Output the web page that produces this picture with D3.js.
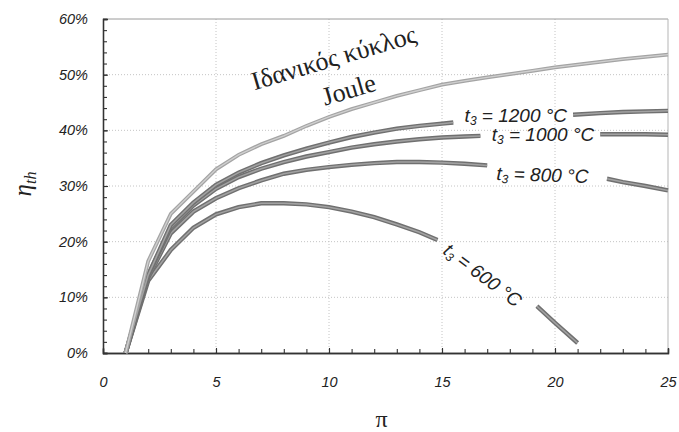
<!DOCTYPE html>
<html>
<head>
<meta charset="utf-8">
<script src="https://cdn.jsdelivr.net/npm/d3@7"></script>
<style>
	body { margin: 0; background: #fff; }
	svg text { fill: #222; }
</style>
</head>
<body>
<div id="chart"></div>
<script>
// thermal efficiency (%) against pressure ratio pi
// null = gap where the curve label sits
var joule = [[1,0],[2,16.5],[3,25],[4,29],[5,33],[6,35.6],[7,37.5],[8,39],[9,40.8],[10,42.4],[11,43.8],[12,45],[13,46.2],[14,47.2],[15,48.2],[16,48.9],[17,49.5],[18,50.1],[19,50.7],[20,51.3],[21,51.8],[22,52.3],[23,52.8],[24,53.2],[25,53.6]];
var t1200 = [[1,0],[2,14],[3,23],[4,27],[5,30.2],[6,32.4],[7,34.1],[8,35.5],[9,36.7],[10,37.8],[11,38.8],[12,39.6],[13,40.3],[14,40.8],[15,41.2],[15.5,41.4],null,[20.8,42.8],[22,43.1],[23,43.3],[24,43.4],[25,43.5]];
var t1000 = [[1,0],[2,14],[3,22.5],[4,26.5],[5,29.5],[6,31.6],[7,33.1],[8,34.3],[9,35.3],[10,36.1],[11,36.9],[12,37.5],[13,38],[14,38.4],[15,38.7],[16,38.9],[16.7,39],null,[22,39.3],[23,39.3],[24,39.3],[25,39.2]];
var t800 = [[1,0],[2,13.5],[3,21.5],[4,25.4],[5,27.8],[6,29.6],[7,31],[8,32.2],[9,32.9],[10,33.4],[11,33.8],[12,34.1],[13,34.3],[14,34.3],[15,34.2],[16,34],[17,33.7],null,[22.3,31.3],[23,30.7],[24,30],[25,29.2]];
var t600 = [[1,0],[2,13],[3,18.5],[4,22.5],[5,24.9],[6,26.2],[7,26.9],[8,26.9],[9,26.7],[10,26.2],[11,25.4],[12,24.4],[13,23.1],[14,21.7],[14.8,20.3],null,[19.2,8.4],[20,5.4],[21,1.8]];

var xTicks = [0,5,10,15,20,25];
var yTicks = [0,10,20,30,40,50,60];

var width = 679, height = 432;
var margin = {top: 19, right: 11, bottom: 79, left: 103};

var svg = d3.select("#chart").append("svg")
	.attr("width", width)
	.attr("height", height);

var x = d3.scaleLinear().domain([0,25]).range([margin.left, width - margin.right]);
var y = d3.scaleLinear().domain([0,60]).range([height - margin.bottom, margin.top]);

// dotted grid
var grid = svg.append("g").attr("stroke", "#c4c4c4").attr("stroke-dasharray", "1,2");
grid.selectAll(".gy").data(yTicks.slice(1,-1)).enter().append("line")
	.attr("x1", x(0)).attr("x2", x(25))
	.attr("y1", function(d){ return y(d); }).attr("y2", function(d){ return y(d); });
grid.selectAll(".gx").data(xTicks.slice(1,-1)).enter().append("line")
	.attr("y1", y(0)).attr("y2", y(60))
	.attr("x1", function(d){ return x(d); }).attr("x2", function(d){ return x(d); });

// frame top / right
svg.append("line").attr("x1", x(0)).attr("x2", x(25)).attr("y1", y(60)).attr("y2", y(60))
	.attr("stroke", "#9a9a9a").attr("stroke-width", 1);
svg.append("line").attr("x1", x(25)).attr("x2", x(25)).attr("y1", y(60)).attr("y2", y(0))
	.attr("stroke", "#b5b5b5").attr("stroke-width", 1);

// axes, ticks pointing inwards
var tickFont = "italic 14.5px 'Liberation Sans', Arial, sans-serif";

var yAxis = svg.append("g").attr("transform", "translate(" + x(0) + ",0)")
	.call(d3.axisLeft(y).tickValues(yTicks).tickSize(-5).tickPadding(15)
		.tickFormat(function(d){ return d + "%"; }));
var yMinor = svg.append("g").attr("transform", "translate(" + x(0) + ",0)")
	.call(d3.axisLeft(y).tickValues(d3.range(0, 61, 2)).tickSize(-4).tickFormat(""));

var xAxis = svg.append("g").attr("transform", "translate(0," + y(0) + ")")
	.call(d3.axisBottom(x).tickValues(xTicks).tickSize(-5).tickPadding(24));
var xMinor = svg.append("g").attr("transform", "translate(0," + y(0) + ")")
	.call(d3.axisBottom(x).tickValues(d3.range(0, 26, 1)).tickSize(-4).tickFormat(""));

[yAxis, yMinor, xAxis, xMinor].forEach(function(a){
	a.select(".domain").attr("stroke", "#333").attr("stroke-width", 1.3);
	a.selectAll(".tick line").attr("stroke", "#333").attr("stroke-width", 1.1);
	a.selectAll(".tick text").style("font", tickFont).attr("fill", "#222");
});

// curves
var line = d3.line()
	.defined(function(d){ return d !== null; })
	.x(function(d){ return x(d[0]); })
	.y(function(d){ return y(d[1]); });

var series = [
	{data: t600,  edge: "#707070", core: "#a2a2a2", w: 4.4},
	{data: t800,  edge: "#707070", core: "#a2a2a2", w: 4.4},
	{data: t1000, edge: "#707070", core: "#a2a2a2", w: 4.4},
	{data: t1200, edge: "#707070", core: "#a2a2a2", w: 4.4},
	{data: joule, edge: "#a4a4a4", core: "#d0d0d0", w: 3.8}
];
series.forEach(function(s){
	svg.append("path").attr("d", line(s.data)).attr("fill", "none")
		.attr("stroke", s.edge).attr("stroke-width", s.w);
	svg.append("path").attr("d", line(s.data)).attr("fill", "none")
		.attr("stroke", s.core).attr("stroke-width", s.w * 0.35);
});

// labels
var lblFont = "italic 19px 'Liberation Sans', Arial, sans-serif";
function tLabel(px, eta, txt, rot) {
	var t = svg.append("text")
		.attr("transform", "translate(" + x(px) + "," + y(eta) + ") rotate(" + rot + ")")
		.style("font", lblFont);
	t.append("tspan").text("t");
	t.append("tspan").attr("dy", 3).style("font-size", "12px").text("3");
	t.append("tspan").attr("dy", -3).text(" = " + txt);
}
tLabel(16.0, 41.5, "1200 °C", 0);
tLabel(17.2, 38.0, "1000 °C", 0);
tLabel(17.4, 31.1, "800 °C", 2);
tLabel(15.0, 18.0, "600 °C", 37);

var serif = "'Liberation Serif', 'Times New Roman', serif";
svg.append("text")
	.attr("transform", "translate(" + x(6.7) + "," + y(47.2) + ") rotate(-16.5)")
	.style("font", "26px " + serif)
	.text("Ιδανικός κύκλος");
svg.append("text")
	.attr("transform", "translate(" + x(9.82) + "," + y(44.4) + ") rotate(-16.5)")
	.style("font", "26px " + serif)
	.text("Joule");

// axis titles
svg.append("text")
	.attr("x", (x(0) + x(25)) / 2 - 4).attr("y", 427)
	.attr("text-anchor", "middle")
	.style("font", "24px " + serif)
	.text("π");

var yt = svg.append("text")
	.attr("transform", "translate(31,184) rotate(-90)")
	.attr("text-anchor", "middle")
	.style("font", "italic 25px " + serif);
yt.append("tspan").text("η");
yt.append("tspan").attr("dy", 5).style("font-size", "16px").text("th");
</script>
</body>
</html>
